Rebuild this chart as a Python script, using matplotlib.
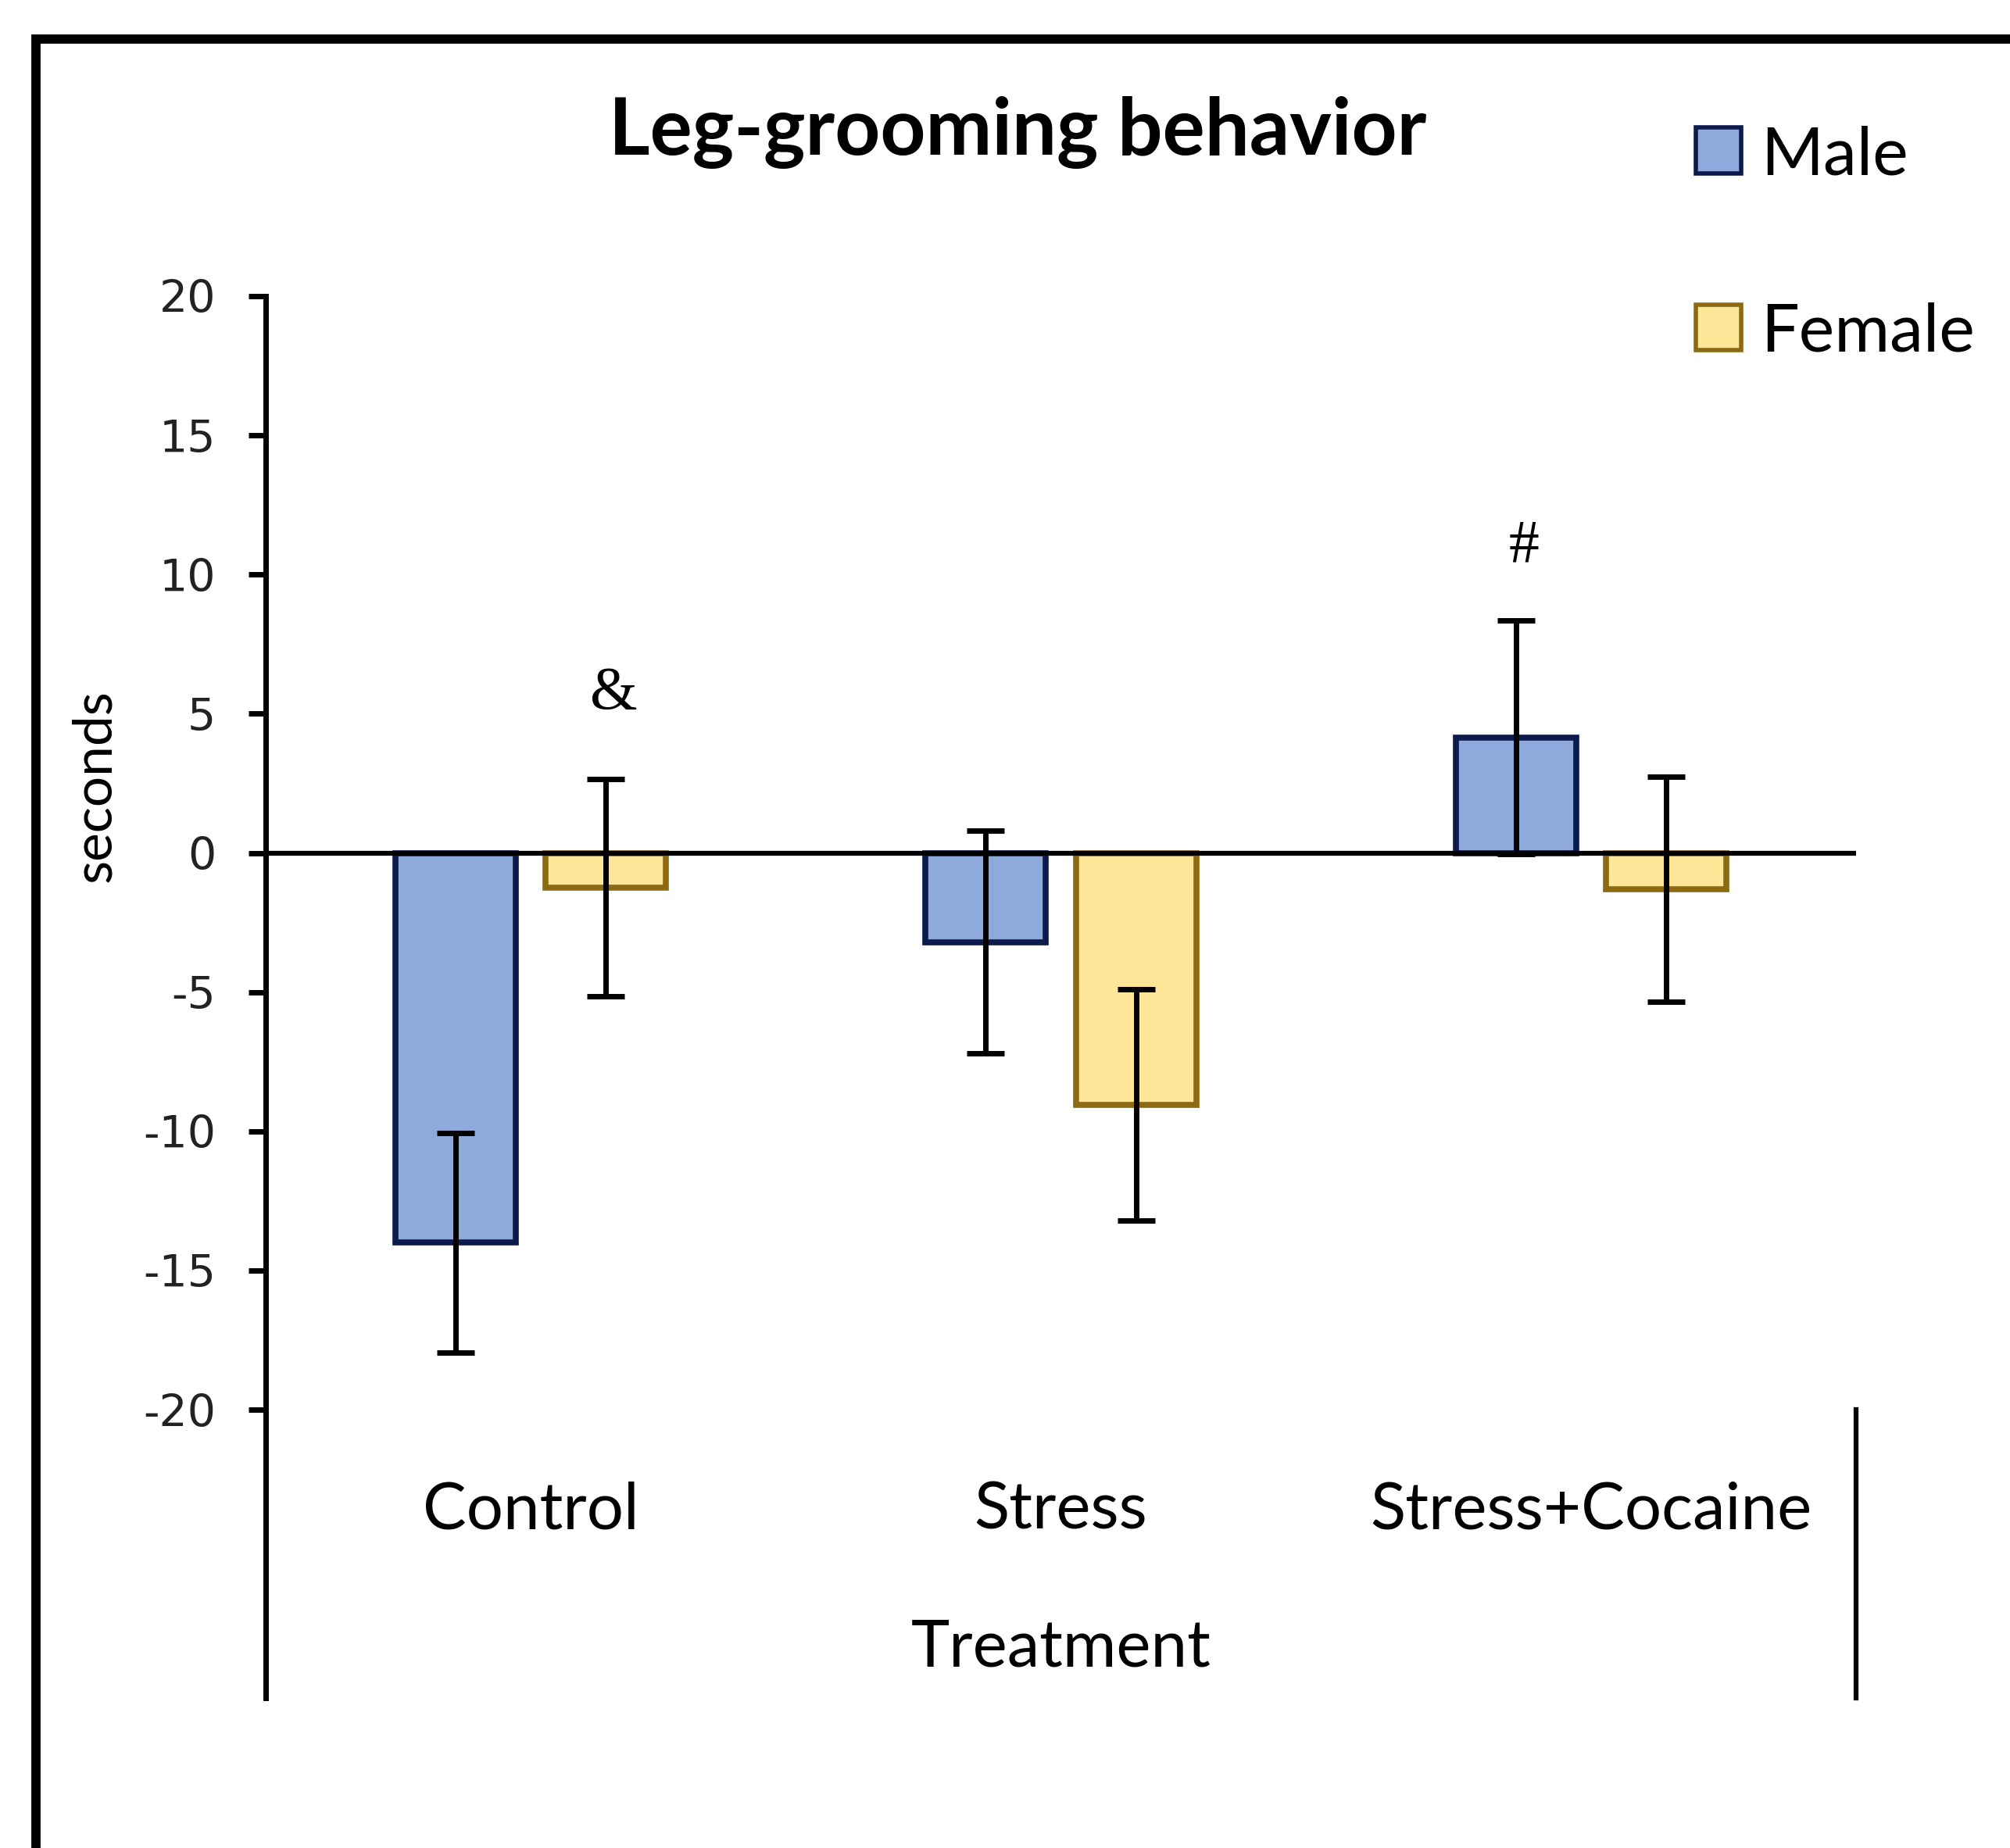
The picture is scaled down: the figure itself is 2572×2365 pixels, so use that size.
import matplotlib
matplotlib.use("Agg")
import matplotlib.pyplot as plt
import numpy as np
from matplotlib.patches import Rectangle
from matplotlib.lines import Line2D

# ---- data ----
categories = ["Control", "Stress", "Stress+Cocaine"]
male_values = [-14.0, -3.2, 4.15]
male_errors = [3.95, 4.0, 4.2]
female_values = [-1.25, -9.05, -1.3]
female_errors = [3.9, 4.15, 4.05]
series_labels = ["Male", "Female"]
yticks = [20, 15, 10, 5, 0, -5, -10, -15, -20]
ytick_labels = ["20", "15", "10", "5", "0", "-5", "-10", "-15", "-20"]
annotations = [("&", 0, 1, 5.7), ("#", 2, 0, 11.0)]  # text, category, series, y

W, H = 2572, 2365
fig = plt.figure(figsize=(W / 100, H / 100), dpi=100)
fig.patch.set_facecolor("white")

ax_left, ax_right = 340 / W, 2375 / W
ax_bottom, ax_top = 1 - 1804 / H, 1 - 379 / H
ax = fig.add_axes([ax_left, ax_bottom, ax_right - ax_left, ax_top - ax_bottom])
ax.set_facecolor("none")

male_face, male_edge = "#8EA9DB", "#0D1B4C"
fem_face, fem_edge = "#FFE699", "#8C6A12"

x = np.arange(len(categories))
offset = 0.142
width = 0.227
err_kw = dict(ecolor="black", elinewidth=5, capsize=17, capthick=5, zorder=4)
bm = ax.bar(x - offset, male_values, width, yerr=male_errors, color=male_face,
            edgecolor=male_edge, linewidth=5.5, error_kw=err_kw, label=series_labels[0], zorder=3)
bf = ax.bar(x + offset, female_values, width, yerr=female_errors, color=fem_face,
            edgecolor=fem_edge, linewidth=5.5, error_kw=err_kw, label=series_labels[1], zorder=3)

ax.axhline(0, color="black", lw=4.5, zorder=5)

ax.set_xlim(-0.5, len(categories) - 0.5)
ax.set_ylim(-20, 20)
ax.set_yticks(yticks)
ax.set_yticklabels(ytick_labels, fontsize=41, family="DejaVu Sans", color="#222222")
ax.tick_params(axis="y", direction="out", length=16, width=5, pad=30)
ax.set_xticks(x)
ax.set_xticklabels(categories, fontsize=60, family="Lato")
ax.tick_params(axis="x", length=0, pad=66)
for s in ["top", "right", "bottom"]:
    ax.spines[s].set_visible(False)
ax.spines["left"].set_linewidth(5)

ax.set_xlabel("Treatment", fontsize=60, family="Lato", labelpad=72)
ax.set_ylabel("seconds", fontsize=50, family="Lato")
ax.yaxis.set_label_coords(-0.092, 0.56)

# extended axis lines below the plot
ax.add_line(Line2D([0, 0], [0, -0.259], transform=ax.transAxes, color="black", lw=5, clip_on=False))
ax.add_line(Line2D([1, 1], [0, -0.259], transform=ax.transAxes, color="black", lw=4.5, clip_on=False))

for txt, ci, si, yv in annotations:
    xp = x[ci] + (offset if si == 1 else -offset) + 0.015
    ax.text(xp, yv, txt, fontsize=56, family="Liberation Serif", ha="center", va="center")

fig.text(1302 / W, 1 - 170 / H, "Leg-grooming behavior", fontsize=73, fontweight="bold",
         family="Lato", ha="center", va="center")

leg = fig.legend(handles=[bm, bf], labels=series_labels, loc="upper left",
                 bbox_to_anchor=(2170 / W, 1 - 160 / H), frameon=False,
                 handlelength=0.67, handleheight=0.67, handletextpad=0.3,
                 labelspacing=1.72, borderpad=0, borderaxespad=0, prop={"family": "Lato", "size": 62})
for p in leg.get_patches():
    p.set_linewidth(4)

# outer frame (cut at right and bottom)
fig.add_artist(Rectangle((46 / W, -0.1), 1.2, 1 - 50 / H + 0.1, transform=fig.transFigure,
                         fill=False, edgecolor="black", lw=8.5))

fig.savefig("out.png", dpi=100)
